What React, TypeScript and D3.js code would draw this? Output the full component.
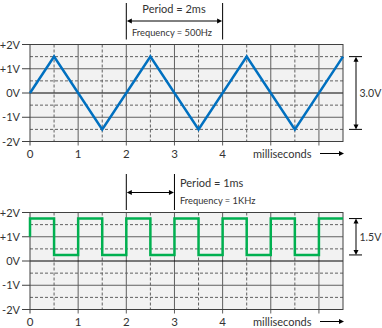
import React from "react";
import * as d3 from "d3";

const xTicks = [0, 1, 2, 3, 4];
const yTickLabels = ["+2V", "+1V", "0V", "-1V", "-2V"];
const yTickValues = [2, 1, 0, -1, -2];
const solidX = [1, 2, 3, 4, 5, 6];
const dashedX = [0.5, 1.5, 2.5, 3.5, 4.5, 5.5];
const solidY = [1, -1];
const dashedY = [1.5, 0.5, -0.5, -1.5];

const triTimes = [0, 0.5, 1.5, 2.5, 3.5, 4.5, 5.5, 6.5];
const triVolts = [0, 1.5, -1.5, 1.5, -1.5, 1.5, -1.5, 1.5];

const sqTimes = [0, 0, 0.5, 1, 1.5, 2, 2.5, 3, 3.5, 4, 4.5, 5, 5.5, 6, 6.5];
const sqVolts = [1, 1.75, 0.25, 1.75, 0.25, 1.75, 0.25, 1.75, 0.25, 1.75, 0.25, 1.75, 0.25, 1.75, 1.75];

const triPeriod = [2, 4];
const sqPeriod = [2, 3];
const triSpan = [1.5, -1.5];
const sqSpan = [1.75, 0.25];

const FONT = "Lato, 'Open Sans', sans-serif";
const TXT = "#333";
const GRID = "#606060";

const x = d3.scaleLinear().domain([0, 6.5]).range([30, 343]);

function arrowHead(px: number, py: number, dir: "l" | "r" | "u" | "d") {
  const L = 5, W = 2.5;
  if (dir === "l") return `M${px},${py}L${px + L},${py - W}L${px + L},${py + W}Z`;
  if (dir === "r") return `M${px},${py}L${px - L},${py - W}L${px - L},${py + W}Z`;
  if (dir === "u") return `M${px},${py}L${px - W},${py + L}L${px + W},${py + L}Z`;
  return `M${px},${py}L${px - W},${py - L}L${px + W},${py - L}Z`;
}

function Panel({ top, times, volts, color, span, spanLabel, curve }: any) {
  const y = d3.scaleLinear().domain([-2, 2]).range([top + 97, top]);
  const line = d3
    .line<number>()
    .x((_, i) => x(times[i]))
    .y((v) => y(v))
    .curve(curve);
  const x0 = x(0), x1 = x(6.5), y0 = y(2), y1 = y(-2);
  const ax = 356;
  const ya = y(span[0]), yb = y(span[1]);
  return (
    <g>
      <rect x={x0} y={y0} width={x1 - x0} height={y1 - y0} fill="#f2f2f2" />
      {dashedX.map((t) => (
        <line key={"dx" + t} x1={x(t)} x2={x(t)} y1={y0} y2={y1} stroke={GRID} strokeWidth={1} strokeDasharray="3,2" />
      ))}
      {dashedY.map((v) => (
        <line key={"dy" + v} x1={x0} x2={x1} y1={y(v)} y2={y(v)} stroke={GRID} strokeWidth={1} strokeDasharray="3,2" />
      ))}
      {solidX.map((t) => (
        <line key={"sx" + t} x1={x(t)} x2={x(t)} y1={y0} y2={y1 + 4} stroke={GRID} strokeWidth={1} />
      ))}
      {solidY.map((v) => (
        <line key={"sy" + v} x1={x0} x2={x1} y1={y(v)} y2={y(v)} stroke={GRID} strokeWidth={1} />
      ))}
      <line x1={x0} x2={x1} y1={y(0)} y2={y(0)} stroke="#000" strokeWidth={1.2} />
      <rect x={x0} y={y0} width={x1 - x0} height={y1 - y0} fill="none" stroke="#404040" strokeWidth={1} />
      {yTickValues.map((v) => (
        <line key={"yt" + v} x1={x0 - 8} x2={x0} y1={y(v)} y2={y(v)} stroke="#404040" strokeWidth={1} />
      ))}
      <line x1={x0} x2={x0} y1={y1} y2={y1 + 4} stroke="#404040" />
      <path d={line(volts) || ""} fill="none" stroke={color} strokeWidth={2.5} strokeLinejoin="miter" />
      {yTickValues.map((v, i) => (
        <text key={"yl" + v} x={20} y={y(v) + 4} textAnchor="end" fontSize={11} fontFamily={FONT} fill={TXT}>
          {yTickLabels[i]}
        </text>
      ))}
      {xTicks.map((t) => (
        <text key={"xl" + t} x={x(t)} y={y1 + 16} textAnchor="middle" fontSize={11.5} fontFamily={FONT} fill={TXT}>
          {t}
        </text>
      ))}
      <text x={253} y={y1 + 16} fontSize={11} fontFamily={FONT} fill={TXT}>milliseconds</text>
      <line x1={320} x2={340} y1={y1 + 12} y2={y1 + 12} stroke="#000" strokeWidth={1} />
      <path d={arrowHead(344, y1 + 12, "r")} fill="#000" />
      {/* amplitude marker */}
      <line x1={349} x2={362} y1={ya} y2={ya} stroke="#000" />
      <line x1={349} x2={362} y1={yb} y2={yb} stroke="#000" />
      <line x1={ax} x2={ax} y1={ya + 3} y2={yb - 3} stroke="#000" />
      <path d={arrowHead(ax, ya, "u")} fill="#000" />
      <path d={arrowHead(ax, yb, "d")} fill="#000" />
      <text x={359.5} y={(ya + yb) / 2 + 4} fontSize={10.5} fontFamily={FONT} fill={TXT}>{spanLabel}</text>
    </g>
  );
}

function PeriodMarker({ t0, t1, yTop, yBot, yArrow }: any) {
  const a = x(t0), b = x(t1);
  return (
    <g>
      <line x1={a} x2={a} y1={yTop} y2={yBot} stroke="#000" />
      <line x1={b} x2={b} y1={yTop} y2={yBot} stroke="#000" />
      <line x1={a + 3} x2={b - 3} y1={yArrow} y2={yArrow} stroke="#000" />
      <path d={arrowHead(a + 0.5, yArrow, "l")} fill="#000" />
      <path d={arrowHead(b - 0.5, yArrow, "r")} fill="#000" />
    </g>
  );
}

export default function App() {
  return (
    <svg width={382} height={328} style={{ position: "absolute", left: 0, top: 0, background: "#fff" }}>
      <Panel top={44.5} times={triTimes} volts={triVolts} color="#0070C0" span={triSpan} spanLabel="3.0V" curve={d3.curveLinear} />
      <Panel top={212.5} times={sqTimes} volts={sqVolts} color="#00B050" span={sqSpan} spanLabel="1.5V" curve={d3.curveStepAfter} />
      <PeriodMarker t0={triPeriod[0]} t1={triPeriod[1]} yTop={3} yBot={39.5} yArrow={21} />
      <text x={174} y={13} textAnchor="middle" fontSize={11} fontFamily={FONT} fill={TXT}>Period = 2ms</text>
      <text x={172} y={35.5} textAnchor="middle" fontSize={9.3} fontFamily={FONT} fill={TXT}>Frequency = 500Hz</text>
      <PeriodMarker t0={sqPeriod[0]} t1={sqPeriod[1]} yTop={174} yBot={210} yArrow={192.5} />
      <text x={180} y={186.5} fontSize={11} fontFamily={FONT} fill={TXT}>Period = 1ms</text>
      <text x={180} y={204} fontSize={9.3} fontFamily={FONT} fill={TXT}>Frequency = 1KHz</text>
    </svg>
  );
}
